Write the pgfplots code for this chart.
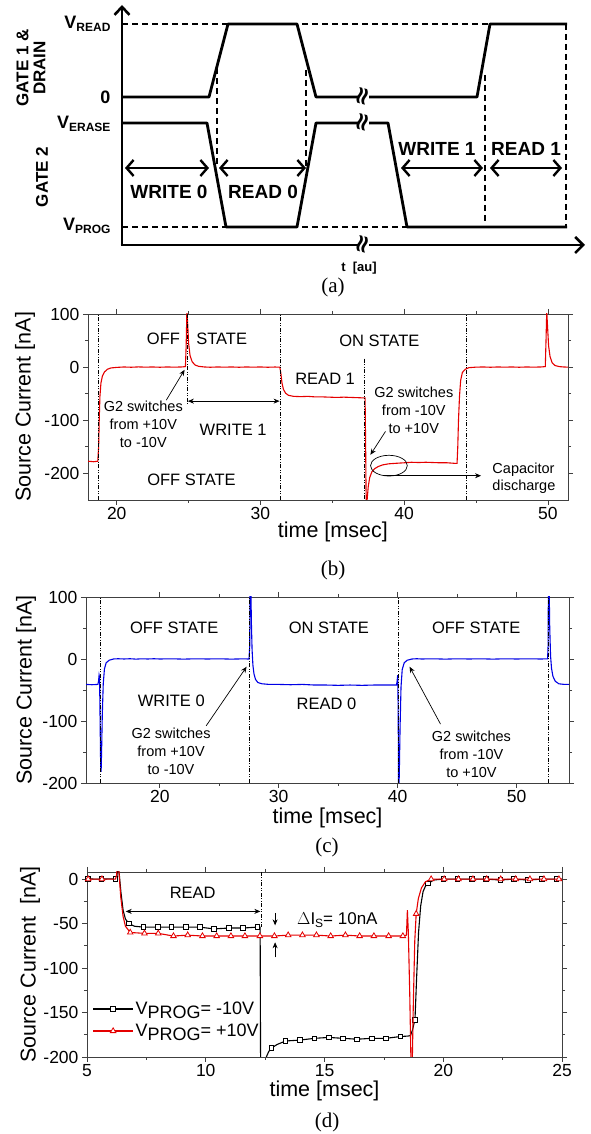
\documentclass[border=0pt]{standalone}
\usepackage{fontspec}
\setmainfont{Liberation Sans}
\newfontfamily\seriffont{Liberation Serif}
\newfontfamily\dejavu{DejaVu Sans}
\usepackage{pgfplots}
\pgfplotsset{compat=1.18}
\usetikzlibrary{arrows.meta}
\newcommand{\fs}[2]{\fontsize{#1}{#2}\selectfont}
\pgfplotsset{
  panel/.style={scale only axis, anchor=south west, clip mode=individual,
    axis line style={line width=0.8pt, black!75},
    tick style={black!75, line width=0.7pt}, tick align=outside,
    major tick length=5pt, minor tick length=3pt, minor tick num=1,
    tick label style={font=\fs{17.5}{19}},
    xticklabel style={yshift=1.5pt},
    label style={font=\fs{21.5}{24}},
    /pgf/number format/assume math mode=true,
    every axis plot/.append style={line width=1.1pt}},
}
\tikzset{sarrow/.style={-{Stealth[length=6pt,width=5pt]}, line width=0.7pt},
  dd/.style={black, line width=0.8pt, dash pattern=on 4pt off 1.5pt on 1pt off 1.5pt on 1pt off 1.5pt},
  ann/.style={black, line width=0.7pt},
  brk/.style={inner sep=0pt, rotate=75, font=\dejavu\bfseries\fs{25}{25}}}
\begin{document}
\begin{tikzpicture}
\useasboundingbox (0,0) rectangle (590pt,1134pt);
% ---------------- (a) ----------------
\begin{axis}[at={(0pt,834pt)}, anchor=south west, scale only axis, width=590pt, height=300pt,
  xmin=0, xmax=590, ymin=0, ymax=300, y dir=reverse, hide axis, clip=false]
\addplot[line width=2.6pt, black, dash pattern=on 6pt off 4pt] coordinates {(122,24) (567,24)};
\addplot[line width=2.6pt, black, dash pattern=on 6pt off 4pt] coordinates {(122,227) (567,227)};
\addplot[line width=2.6pt, black, dash pattern=on 6pt off 4pt] coordinates {(566,24) (566,227)};
\addplot[line width=2.6pt, black, dash pattern=on 6pt off 4pt] coordinates {(217,68) (217,167)};
\addplot[line width=2.6pt, black, dash pattern=on 6pt off 4pt] coordinates {(306,70) (306,167)};
\addplot[line width=2.6pt, black, dash pattern=on 6pt off 4pt] coordinates {(485,75) (485,222)};
\addplot[line width=2.8pt, black, line join=round] coordinates {(122,97) (209,97) (228,24) (297,24) (316,97) (477,97) (490,24) (567,24)};
\addplot[line width=2.8pt, black, line join=round] coordinates {(122,123) (207,123) (226,227) (297,227) (316,123) (388,123) (407,227) (567,227)};
\addplot[line width=2.8pt, black, -{Straight Barb[length=8pt,width=15pt,line width=2.6pt]}] coordinates {(122,245) (122,5)};
\addplot[line width=2.8pt, black, -{Straight Barb[length=8pt,width=16pt,line width=2.6pt]}] coordinates {(120.6,245) (585,245)};
\addplot[line width=2.4pt, black, {Straight Barb[length=7pt,width=16pt,line width=2.4pt]}-{Straight Barb[length=7pt,width=16pt,line width=2.4pt]}] coordinates {(125,168) (209,168)};
\addplot[line width=2.4pt, black, {Straight Barb[length=7pt,width=16pt,line width=2.4pt]}-{Straight Barb[length=7pt,width=16pt,line width=2.4pt]}] coordinates {(219,168) (306,168)};
\addplot[line width=2.4pt, black, {Straight Barb[length=7pt,width=16pt,line width=2.4pt]}-{Straight Barb[length=7pt,width=16pt,line width=2.4pt]}] coordinates {(401,168) (483,168)};
\addplot[line width=2.4pt, black, {Straight Barb[length=7pt,width=16pt,line width=2.4pt]}-{Straight Barb[length=7pt,width=16pt,line width=2.4pt]}] coordinates {(490,168) (562,168)};
\addplot[white, line width=4pt] coordinates {(359,97) (369,97)};
\addplot[white, line width=4pt] coordinates {(359,123) (369,123)};
\addplot[white, line width=4pt] coordinates {(359,245) (369,245)};
\node[brk] at (axis cs:364,97) {≈};
\node[brk] at (axis cs:364,123) {≈};
\node[brk] at (axis cs:364,245) {≈};
\node[anchor=east, font=\bfseries\fs{18}{18}] at (axis cs:114,24) {V\raisebox{-3pt}{\fs{12}{12}READ}};
\node[anchor=east, font=\bfseries\fs{18}{18}] at (axis cs:114,97) {0};
\node[anchor=east, font=\bfseries\fs{18}{18}] at (axis cs:114,124) {V\raisebox{-3pt}{\fs{12}{12}ERASE}};
\node[anchor=east, font=\bfseries\fs{18}{18}] at (axis cs:114,226) {V\raisebox{-3pt}{\fs{12}{12}PROG}};
\node[rotate=90, align=center, font=\bfseries\fs{17}{17}] at (axis cs:31,68) {GATE 1 \&\\DRAIN};
\node[rotate=90, font=\bfseries\fs{17}{17}] at (axis cs:42,177) {GATE 2};
\node[font=\bfseries\fs{19}{19}] at (axis cs:169,192) {WRITE 0};
\node[font=\bfseries\fs{19}{19}] at (axis cs:263,192) {READ 0};
\node[font=\bfseries\fs{19}{19}] at (axis cs:437,149) {WRITE 1};
\node[font=\bfseries\fs{19}{19}] at (axis cs:526,149) {READ 1};
\node[font=\bfseries\fs{13}{13}] at (axis cs:359,268) {t\ \ [au]};
\end{axis}
\node[font=\seriffont\fs{21}{21}] at (333pt,847pt) {(a)};
% ---------------- (b) ----------------
\begin{axis}[panel, at={(88pt,634pt)}, width=480pt, height=186pt,
  xmin=18, xmax=51.4, ymin=-250, ymax=100,
  xtick={20,30,40,50}, ytick={-200,-100,0,100},
  xlabel={time [msec]}, ylabel={Source Current [nA]},
  xlabel style={at={(axis description cs:0.51,-0.17)}, anchor=center},
  ylabel style={at={(axis description cs:-0.131,0.5)}, anchor=center}]
\addplot[red!90!black, line width=1.1pt] coordinates {
(18,-177)(18.4,-178)(18.68,-177)(18.74,-150)(18.78,-100)(18.83,-55)(18.9,-30)(19.0,-17)(19.15,-9)(19.35,-4)(19.6,-1.5)(20,-0.5)(20.5,0.3)(21,-0.2)(21.5,0.4)(22,0)(22.5,0.3)(23,-0.2)(23.5,0.3)(24,0)(24.5,0.3)(24.78,1)(24.83,40)(24.88,105)(24.93,85)(25.0,45)(25.1,22)(25.25,10)(25.45,4)(25.7,1.5)(26.1,0.3)(26.5,-0.2)(27,0.3)(27.5,0)(28,0.3)(28.5,-0.2)(29,0.3)(29.5,0)(30,0.3)(30.5,-0.2)(31,0.2)(31.35,0)(31.42,-12)(31.5,-30)(31.6,-42)(31.75,-49)(31.95,-53)(32.3,-55)(32.8,-55.5)(33.3,-55)(33.8,-56)(34.3,-56)(34.8,-56.5)(35.3,-57)(35.8,-56.5)(36.3,-57)(36.8,-57.5)(37.2,-58)(37.28,-58)(37.32,-150)(37.36,-270)(37.42,-250)(37.5,-225)(37.6,-208)(37.75,-197)(37.95,-191)(38.2,-187)(38.5,-184)(38.9,-182)(39.4,-181)(40,-180)(40.5,-179)(41,-179.5)(41.5,-179)(42,-179.5)(42.5,-180)(43,-180)(43.5,-181)(43.68,-181)(43.73,-150)(43.78,-100)(43.85,-55)(43.93,-25)(44.05,-10)(44.25,-4)(44.5,-1)(45,0)(45.5,0.3)(46,-0.2)(46.5,0.3)(47,0)(47.5,0.3)(48,-0.2)(48.5,0.3)(49,0)(49.5,0.3)(49.82,1)(49.87,50)(49.92,105)(49.97,80)(50.05,40)(50.15,20)(50.3,8)(50.5,3)(50.8,1)(51.1,0.3)(51.4,0)};
\draw[dd] (axis cs:18.72,-250) -- (axis cs:18.72,100);
\draw[dd] (axis cs:24.9,100) -- (axis cs:24.9,-70);
\draw[dd] (axis cs:31.37,-250) -- (axis cs:31.37,100);
\draw[dd] (axis cs:37.25,16) -- (axis cs:37.25,-250);
\draw[dd] (axis cs:44.3,-250) -- (axis cs:44.3,100);
\node[font=\fs{16.5}{18}] at (axis cs:23.25,54) {OFF};
\node[font=\fs{16.5}{18}] at (axis cs:27.3,54) {STATE};
\node[font=\fs{16.5}{18}] at (axis cs:38.27,50) {ON STATE};
\node[font=\fs{16.5}{18}] at (axis cs:34.5,-22) {READ 1};
\node[font=\fs{16.5}{18}] at (axis cs:28.1,-118) {WRITE 1};
\node[font=\fs{16.5}{18}] at (axis cs:25.2,-212) {OFF STATE};
\node[align=center, font=\fs{14.5}{18}] at (axis cs:21.85,-107) {G2 switches\\from +10V\\to -10V};
\node[align=center, font=\fs{14.5}{18}] at (axis cs:40.67,-81) {G2 switches\\from -10V\\to +10V};
\node[anchor=west, align=left, font=\fs{14.5}{17}] at (axis cs:45.9,-208.5) {Capacitor\\discharge};
\draw[sarrow] (axis cs:23.45,-62) -- (axis cs:24.72,-5);
\draw[sarrow] (axis cs:38.7,-121) -- (axis cs:37.65,-165);
\draw[{Stealth[length=6pt,width=5pt]}-{Stealth[length=6pt,width=5pt]}, line width=0.7pt] (axis cs:24.95,-64) -- (axis cs:31.33,-64);
\draw[ann] (axis cs:38.94,-185.4) ellipse [x radius=1.28, y radius=19.5];
\draw[sarrow] (axis cs:38.55,-204.3) -- (axis cs:45.35,-204.3);
\end{axis}
\node[font=\seriffont\fs{21}{21}] at (333pt,564pt) {(b)};
% ---------------- (c) ----------------
\begin{axis}[panel, at={(86pt,351pt)}, width=483pt, height=186pt,
  xmin=13.8, xmax=54.4, ymin=-200, ymax=100,
  xtick={20,30,40,50}, ytick={-200,-100,0,100},
  xlabel={time [msec]}, ylabel={Source Current [nA]},
  xlabel style={at={(axis description cs:0.5,-0.19)}, anchor=center},
  ylabel style={at={(axis description cs:-0.124,0.5)}, anchor=center}]
\addplot[blue!90!black, line width=1.1pt] coordinates {
(13.8,-41)(14.3,-41.5)(14.8,-41)(14.86,-35)(14.9,-26)(14.94,-30)(14.98,-90)(15.03,-170)(15.07,-182)(15.11,-150)(15.17,-90)(15.25,-40)(15.35,-16)(15.5,-6)(15.75,-2)(16.1,0)(16.5,0.4)(17,0)(17.5,0.4)(18,-0.2)(18.5,0.3)(19,0)(19.5,0.4)(20,0)(21,0.3)(22,-0.2)(23,0.3)(24,0)(25,0.3)(26,-0.2)(27,0.2)(27.5,0)(27.56,20)(27.6,150)(27.65,130)(27.7,60)(27.76,15)(27.83,-10)(27.92,-24)(28.05,-33)(28.25,-38)(28.6,-40)(29.2,-41)(30,-41)(31,-41.5)(32,-41)(33,-42)(34,-42)(35,-42.5)(36,-42)(37,-42.5)(38,-42)(39,-42)(39.9,-42)(39.95,-36)(40.0,-26)(40.04,-80)(40.08,-230)(40.14,-180)(40.2,-110)(40.28,-45)(40.38,-17)(40.55,-6)(40.8,-2)(41.2,0)(41.6,0.4)(42,0)(43,0.3)(44,-0.2)(45,0.3)(46,0)(47,0.3)(48,-0.2)(49,0.3)(50,0)(51,0.3)(52,0)(52.6,0.2)(52.64,20)(52.68,150)(52.73,120)(52.78,50)(52.85,5)(52.93,-15)(53.05,-28)(53.25,-36)(53.55,-40)(54,-41)(54.4,-41)};
\draw[dd] (axis cs:15.0,-200) -- (axis cs:15.0,100);
\draw[dd] (axis cs:27.56,-200) -- (axis cs:27.56,100);
\draw[dd] (axis cs:40.05,-200) -- (axis cs:40.05,100);
\draw[dd] (axis cs:52.7,-200) -- (axis cs:52.7,100);
\node[font=\fs{16.5}{18}] at (axis cs:21.21,50) {OFF STATE};
\node[font=\fs{16.5}{18}] at (axis cs:34.22,50) {ON STATE};
\node[font=\fs{16.5}{18}] at (axis cs:46.6,50) {OFF STATE};
\node[font=\fs{16.5}{18}] at (axis cs:20.97,-67.6) {WRITE 0};
\node[font=\fs{16.5}{18}] at (axis cs:34.02,-73) {READ 0};
\node[align=center, font=\fs{14.5}{18}] at (axis cs:20.95,-149.6) {G2 switches\\from +10V\\to -10V};
\node[align=center, font=\fs{14.5}{18}] at (axis cs:46.2,-154.4) {G2 switches\\from -10V\\to +10V};
\draw[sarrow] (axis cs:23.9,-107.8) -- (axis cs:27.3,-12.5);
\draw[sarrow] (axis cs:43.6,-105) -- (axis cs:41.0,-12.5);
\end{axis}
\node[font=\seriffont\fs{21}{21}] at (327pt,287pt) {(c)};
% ---------------- (d) ----------------
\begin{axis}[panel, at={(87pt,77pt)}, width=475pt, height=185pt,
  xmin=5, xmax=25, ymin=-200, ymax=8,
  xtick={5,10,15,20,25}, ytick={-200,-150,-100,-50,0},
  xlabel={time [msec]}, ylabel={Source Current\ \ [nA]},
  xlabel style={at={(axis description cs:0.5,-0.185)}, anchor=center},
  ylabel style={at={(axis description cs:-0.12,0.5)}, anchor=center},
  legend style={at={(axis description cs:0.005,0.20)}, anchor=west, draw=none, fill=none,
    font=\fs{18}{20}, row sep=4pt},
  legend cell align=left,
  legend image code/.code={\draw[mark repeat=2,mark phase=2,#1] plot coordinates {(0pt,0pt) (20pt,0pt) (40pt,0pt)};}]
\addplot[black, line width=1.1pt, forget plot] coordinates {
(5,0.5)(5.3,0)(5.6,0)(6.0,0.3)(6.2,0)(6.26,3)(6.3,15)(6.36,5)(6.43,-15)(6.52,-35)(6.62,-45)(6.77,-50)(7.0,-53)(7.38,-54)(7.98,-54)(8.56,-54)(9.16,-54)(9.75,-54)(10.35,-56)(10.97,-55)(11.57,-55)(12.17,-54)(12.29,-54)(12.32,-300)(12.48,-215)(12.55,-200)(12.65,-194)(12.76,-190)(13.0,-186)(13.36,-182)(13.96,-181)(14.58,-179)(15.18,-178)(15.77,-179)(16.37,-180)(16.99,-179)(17.59,-179)(18.19,-177)(18.5,-176.5)(18.62,-176)(18.7,-170)(18.81,-158)(18.88,-110)(18.96,-60)(19.05,-30)(19.15,-14)(19.25,-8)(19.36,-5)(19.6,-1)(20.0,0)(20.6,0)(21.2,0)(21.8,0)(22.4,-1)(22.97,0)(23.56,-1)(24.16,0)(24.76,0)(25,0)};
\addplot[black, only marks, mark=square*, mark size=2.3pt, mark options={fill=white, line width=0.8pt}, forget plot] coordinates {
(5.05,0.5)(5.6,0)(6.19,0)(6.77,-50)(7.38,-54)(7.98,-54)(8.56,-54)(9.16,-54)(9.75,-54)(10.35,-56)(10.97,-55)(11.57,-55)(12.17,-54)(12.76,-190)(13.36,-182)(13.96,-181)(14.58,-179)(15.18,-178)(15.77,-179)(16.37,-180)(16.99,-179)(17.59,-179)(18.19,-177)(18.81,-158)(19.36,-5)(20.0,0)(20.6,0)(21.2,0)(21.8,0)(22.4,-1)(22.97,0)(23.56,-1)(24.16,0)(24.76,0)};
\addplot[red!90!black, line width=1.1pt, forget plot] coordinates {
(5,0)(5.63,0)(6.0,0)(6.2,0)(6.25,5)(6.29,30)(6.34,10)(6.42,-20)(6.52,-42)(6.62,-53)(6.82,-60)(7.42,-61)(8.0,-61)(8.64,-64)(9.24,-63)(9.86,-64)(10.46,-64)(11.06,-64)(11.65,-64)(12.28,-64)(12.89,-64)(13.47,-63)(14.07,-63)(14.66,-63)(15.26,-64)(15.88,-63)(16.48,-64)(17.08,-64)(17.7,-64)(18.3,-64)(18.45,-63)(18.49,-35)(18.53,-60)(18.59,-130)(18.64,-205)(18.69,-215)(18.74,-140)(18.8,-70)(18.86,-39)(18.95,-22)(19.08,-10)(19.25,-3)(19.49,0)(20.04,0)(20.64,0)(21.25,0)(21.83,0)(22.42,0)(23.05,0)(23.65,0)(24.24,0)(24.87,0)(25,0)};
\addplot[red!90!black, only marks, mark=triangle*, mark size=3.2pt, mark options={fill=white, line width=0.8pt}, forget plot] coordinates {
(5.05,0)(5.63,0)(6.82,-60)(7.42,-61)(8.0,-61)(8.64,-64)(9.24,-63)(9.86,-64)(10.46,-64)(11.06,-64)(11.65,-64)(12.28,-64)(12.89,-64)(13.47,-63)(14.07,-63)(14.66,-63)(15.26,-64)(15.88,-63)(16.48,-64)(17.08,-64)(17.7,-64)(18.3,-64)(18.86,-39)(19.49,0)(20.04,0)(20.64,0)(21.25,0)(21.83,0)(22.42,0)(23.05,0)(23.65,0)(24.24,0)(24.87,0)};
\addlegendimage{black, line width=1.1pt, mark=square*, mark size=2.3pt, mark options={fill=white, line width=0.8pt}}
\addlegendentry{V\raisebox{-4pt}{PROG}= -10V}
\addlegendimage{red!90!black, line width=1.1pt, mark=triangle*, mark size=3.2pt, mark options={fill=white, line width=0.8pt}}
\addlegendentry{V\raisebox{-4pt}{PROG}= +10V}
\draw[dd] (axis cs:12.33,8) -- (axis cs:12.33,-54);
\draw[{Stealth[length=6pt,width=5pt]}-{Stealth[length=6pt,width=5pt]}, line width=0.7pt] (axis cs:6.63,-36.3) -- (axis cs:12.3,-36.3);
\draw[sarrow] (axis cs:12.92,-38) -- (axis cs:12.92,-52);
\draw[sarrow] (axis cs:12.92,-88) -- (axis cs:12.92,-71);
\node[font=\fs{16.5}{18}] at (axis cs:9.45,-15.7) {READ};
\node[anchor=west, font=\fs{17}{18}] at (axis cs:13.7,-46) {$\Delta$I\raisebox{-3pt}{\fs{12}{12}S}= 10nA};
\end{axis}
\node[font=\seriffont\fs{21}{21}] at (327pt,12pt) {(d)};
\end{tikzpicture}
\end{document}
